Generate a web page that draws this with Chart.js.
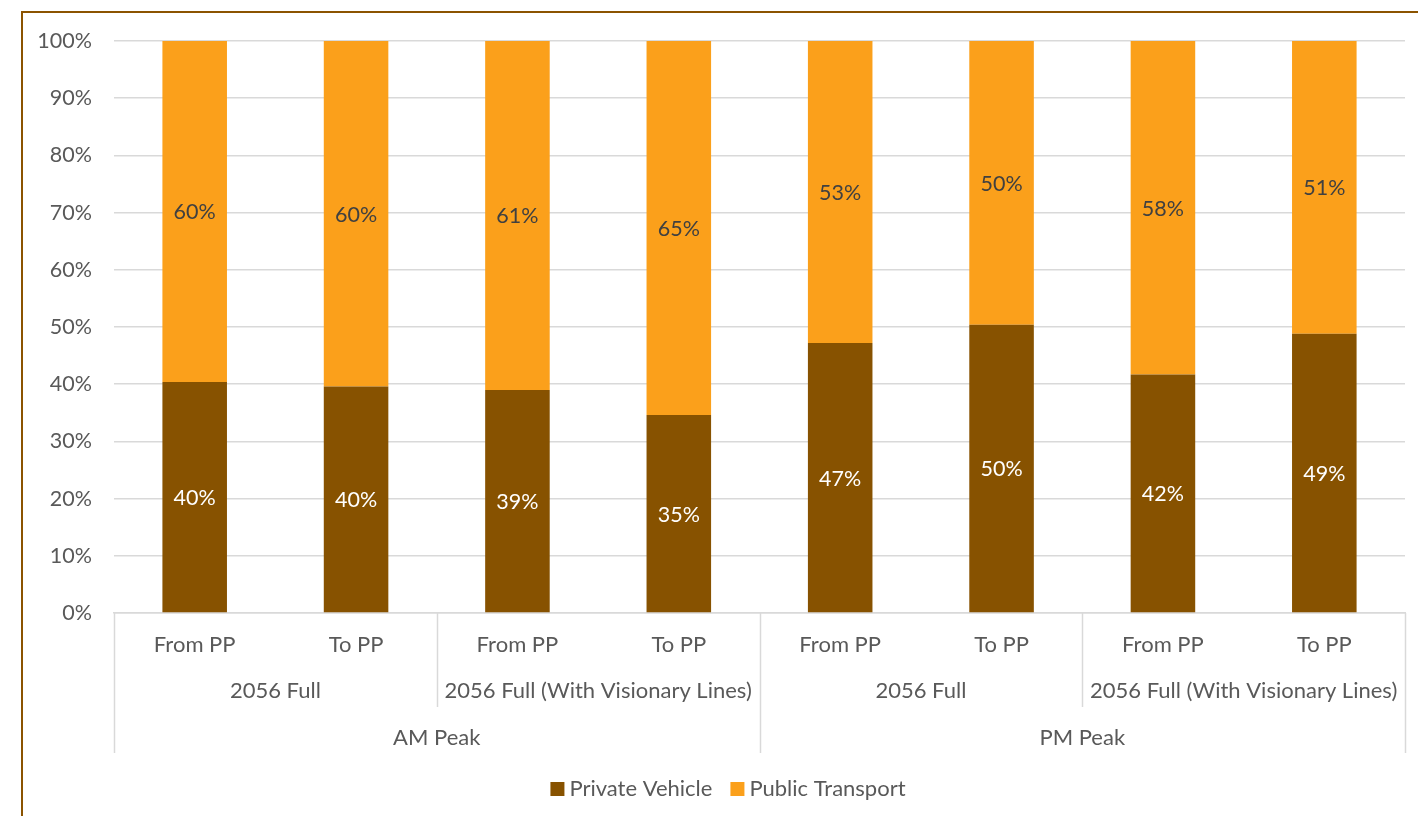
<!DOCTYPE html>
<html>
<head>
<meta charset="utf-8">
<script src="https://cdn.jsdelivr.net/npm/chart.js@4/dist/chart.umd.min.js"></script>
<style>
html,body{margin:0;padding:0;background:#fff;}
#wrap{position:relative;width:1418px;height:816px;}
</style>
</head>
<body>
<div id="wrap"><canvas id="c" width="1418" height="816"></canvas></div>
<script>
const categories = ['From PP','To PP','From PP','To PP','From PP','To PP','From PP','To PP'];
const scenarioGroups = ['2056 Full','2056 Full (With Visionary Lines)','2056 Full','2056 Full (With Visionary Lines)'];
const peakGroups = ['AM Peak','PM Peak'];
const privateVehicle = [40.4, 39.6, 39.0, 34.6, 47.2, 50.4, 41.7, 48.8];
const publicTransport = [59.6, 60.4, 61.0, 65.4, 52.8, 49.6, 58.3, 51.2];
const seriesNames = ['Private Vehicle','Public Transport'];
const yTicks = [0,10,20,30,40,50,60,70,80,90,100];

const BROWN = '#875200';
const ORANGE = '#FBA01B';
const GRID = '#d9d9d9';
const TXT = '#595959';
const FONT = 'Lato, "Open Sans", sans-serif';
const FS = 22;
const FSY = 21.5;

const extras = {
  id:'extras',
  beforeDraw(chart){
    const ctx = chart.ctx;
    ctx.save();
    ctx.strokeStyle = '#8B5300';
    ctx.lineWidth = 2;
    ctx.beginPath();
    ctx.moveTo(22, 816); ctx.lineTo(22, 12); ctx.lineTo(1418, 12);
    ctx.stroke();
    ctx.restore();
  },
  afterDatasetsDraw(chart){
    const ctx = chart.ctx;
    ctx.save();
    ctx.font = FSY + 'px ' + FONT;
    ctx.textAlign = 'center';
    ctx.textBaseline = 'middle';
    chart.data.datasets.forEach((ds, di) => {
      const meta = chart.getDatasetMeta(di);
      meta.data.forEach((bar, i) => {
        const v = ds.data[i];
        const y = (bar.y + bar.base) / 2;
        ctx.fillStyle = di === 0 ? '#ffffff' : '#404040';
        ctx.fillText(Math.round(v) + '%', bar.x, y + 1);
      });
    });
    ctx.restore();
  },
  afterDraw(chart){
    const ctx = chart.ctx;
    const xs = chart.scales.x;
    const ca = chart.chartArea;
    const n = categories.length;
    const w = (xs.right - xs.left) / n;
    const edge = k => xs.getPixelForValue(0) - w/2 + k*w;
    ctx.save();
    ctx.strokeStyle = GRID;
    ctx.lineWidth = 1.5;
    const outer = [0, 4, 8];
    const inner = [2, 6];
    outer.forEach(k => { const x = Math.round(edge(k)) + 0.5; ctx.beginPath(); ctx.moveTo(x, ca.bottom); ctx.lineTo(x, ca.bottom + 140); ctx.stroke(); });
    inner.forEach(k => { const x = Math.round(edge(k)) + 0.5; ctx.beginPath(); ctx.moveTo(x, ca.bottom); ctx.lineTo(x, ca.bottom + 94); ctx.stroke(); });
    ctx.font = FS + 'px ' + FONT;
    ctx.fillStyle = TXT;
    ctx.textAlign = 'center';
    ctx.textBaseline = 'middle';
    scenarioGroups.forEach((t, g) => {
      const x = (edge(g*2) + edge(g*2+2)) / 2;
      ctx.fillText(t, x, ca.bottom + 78);
    });
    peakGroups.forEach((t, g) => {
      const x = (edge(g*4) + edge(g*4+4)) / 2;
      ctx.fillText(t, x, ca.bottom + 125);
    });
    const box = 14, gapBT = 5, gapItems = 18;
    const widths = seriesNames.map(s => ctx.measureText(s).width);
    const total = box + gapBT + widths[0] + gapItems + box + gapBT + widths[1];
    let lx = 728 - total/2;
    const ly = 789;
    const cols = [BROWN, ORANGE];
    ctx.textAlign = 'left';
    seriesNames.forEach((s, i) => {
      ctx.fillStyle = cols[i];
      ctx.fillRect(lx, ly - box/2, box, box);
      lx += box + gapBT;
      ctx.fillStyle = TXT;
      ctx.fillText(s, lx, ly);
      lx += widths[i] + gapItems;
    });
    ctx.restore();
  }
};

new Chart(document.getElementById('c'), {
  type: 'bar',
  data: {
    labels: categories,
    datasets: [
      { label: seriesNames[0], data: privateVehicle, backgroundColor: BROWN, barPercentage: 0.4, categoryPercentage: 1.0 },
      { label: seriesNames[1], data: publicTransport, backgroundColor: ORANGE, barPercentage: 0.4, categoryPercentage: 1.0 }
    ]
  },
  options: {
    responsive: false,
    animation: false,
    devicePixelRatio: 1,
    layout: { padding: { top: 41, right: 13, left: 0, bottom: 0 } },
    plugins: { legend: { display: false }, tooltip: { enabled: false } },
    scales: {
      x: {
        stacked: true,
        grid: { display: false, drawTicks: false },
        border: { display: true, color: GRID, width: 1.5 },
        ticks: { color: TXT, font: { family: FONT, size: FS }, padding: 19, maxRotation: 0, autoSkip: false },
        afterFit(scale){ scale.height = 203; }
      },
      y: {
        stacked: true,
        min: 0, max: 100,
        afterBuildTicks(scale){ scale.ticks = yTicks.map(v => ({ value: v })); },
        grid: { color: GRID, lineWidth: 1.5, drawTicks: false },
        border: { display: false },
        ticks: { color: TXT, font: { family: FONT, size: FSY }, padding: 22, callback: v => v + '%' },
        afterFit(scale){ scale.width = 114; }
      }
    }
  },
  plugins: [extras]
});
</script>
</body>
</html>
